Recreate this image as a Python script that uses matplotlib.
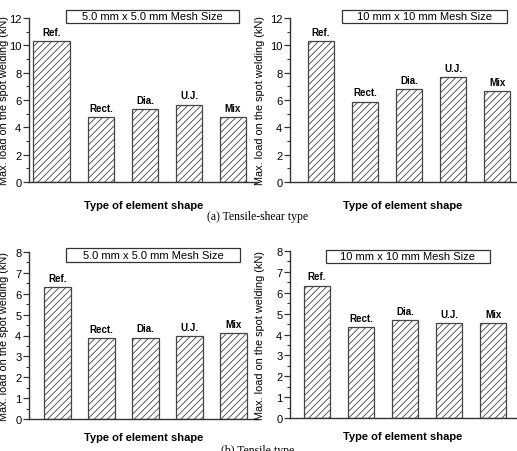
import matplotlib
matplotlib.use("Agg")
import matplotlib.pyplot as plt
from matplotlib.patches import Rectangle

plt.rcParams['font.family'] = ['Liberation Sans', 'DejaVu Sans']
plt.rcParams['hatch.linewidth'] = 0.6
plt.rcParams['hatch.color'] = '#444444'

shapes = ["Ref.", "Rect.", "Dia.", "U.J.", "Mix"]

# tensile-shear type
ts_5mm = [10.34, 4.72, 5.33, 5.67, 4.72]
ts_10mm = [10.32, 5.89, 6.82, 7.70, 6.67]
# tensile type (bottom row)
tt_5mm = [6.31, 3.88, 3.90, 3.96, 4.13]
tt_10mm = [6.34, 4.34, 4.69, 4.56, 4.53]

mesh_labels = ["5.0 mm x 5.0 mm Mesh Size", "10 mm x 10 mm Mesh Size"]
captions = ["(a) Tensile-shear type", "(b) Tensile type"]
ylabel = "Max. load on the spot welding (kN)"
xlabel = "Type of element shape"

W, H = 517, 452
fig = plt.figure(figsize=(W / 100, H / 100), dpi=100)


def px_axes(x0, x1, ytop, ybot):
    return fig.add_axes([x0 / W, 1 - ybot / H, (x1 - x0) / W, (ybot - ytop) / H])


panels = [
    # values, axes box (px), xlim, ymax, major, minor, mesh box (px), label index, xlabel y, ylabel x
    (ts_5mm, (29, 258, 19, 183), (0.36, 5.57), 12, 2, 1, (66, 239, 11, 24), 0, -0.11, -0.086),
    (ts_10mm, (290, 516, 19, 183), (0.30, 5.43), 12, 2, 1, (342, 507, 11, 24), 1, -0.11, -0.11),
    (tt_5mm, (29, 258, 253, 420), (0.35, 5.56), 8, 1, 0.5, (66, 240, 249, 263), 0, -0.077, -0.086),
    (tt_10mm, (290, 516, 252, 419), (0.39, 5.52), 8, 1, 0.5, (326, 490, 251, 264), 1, -0.077, -0.11),
]

for i, (vals, box, xlim, ymax, major, minor, mbox, li, xly, ylx) in enumerate(panels):
    ax = px_axes(box[0], box[1], box[2], box[3])
    x = list(range(1, len(vals) + 1))
    # first panel has a wider reference bar (right edge aligned with the others)
    widths = [0.85, 0.6, 0.6, 0.6, 0.6] if i == 0 else [0.6] * 5
    right = [xi + 0.3 for xi in x]
    ax.bar(right, vals, width=[-w for w in widths], align='edge',
           color='white', edgecolor='#444444', linewidth=0.9, hatch='/////')
    for xi, w, v, s in zip(right, widths, vals, shapes):
        ax.annotate(s, (xi - w / 2, v), xytext=(0, 3), textcoords='offset points',
                    ha='center', va='bottom', fontsize=7, fontweight='bold')
    ax.set_xlim(*xlim)
    ax.set_ylim(0, ymax)
    ax.set_yticks([k * major for k in range(int(ymax / major) + 1)])
    ax.set_yticks([k * minor for k in range(int(ymax / minor) + 1)], minor=True)
    ax.set_xticks([])
    for sp in ['top', 'right']:
        ax.spines[sp].set_visible(False)
    for sp in ['left', 'bottom']:
        ax.spines[sp].set_color('#333333')
        ax.spines[sp].set_linewidth(1.0)
    ax.tick_params(axis='y', which='major', length=4, width=0.9, color='#333333',
                   labelsize=8, pad=1.5)
    ax.tick_params(axis='y', which='minor', length=2, width=0.8, color='#333333')
    ax.set_ylabel(ylabel, fontsize=7.8)
    ax.yaxis.set_label_coords(ylx, 0.5)
    ax.set_xlabel(xlabel, fontsize=8, fontweight='bold')
    ax.xaxis.set_label_coords(0.5, xly)

    x0, x1, y0, y1 = mbox
    fig.patches.append(Rectangle((x0 / W, 1 - y1 / H), (x1 - x0) / W, (y1 - y0) / H,
                                 transform=fig.transFigure, facecolor='white',
                                 edgecolor='#333333', linewidth=0.9))
    fig.text((x0 + x1) / 2 / W, 1 - (y0 + y1) / 2 / H, mesh_labels[li],
             ha='center', va='center', fontsize=8)

fig.text(258 / W, 1 - 217 / H, captions[0], ha='center', va='center',
         fontsize=8.5, family='Liberation Serif')
fig.text(258 / W, 1 - 445 / H, captions[1], ha='center', va='top',
         fontsize=8.5, family='Liberation Serif')

fig.savefig("out.png", dpi=100)
